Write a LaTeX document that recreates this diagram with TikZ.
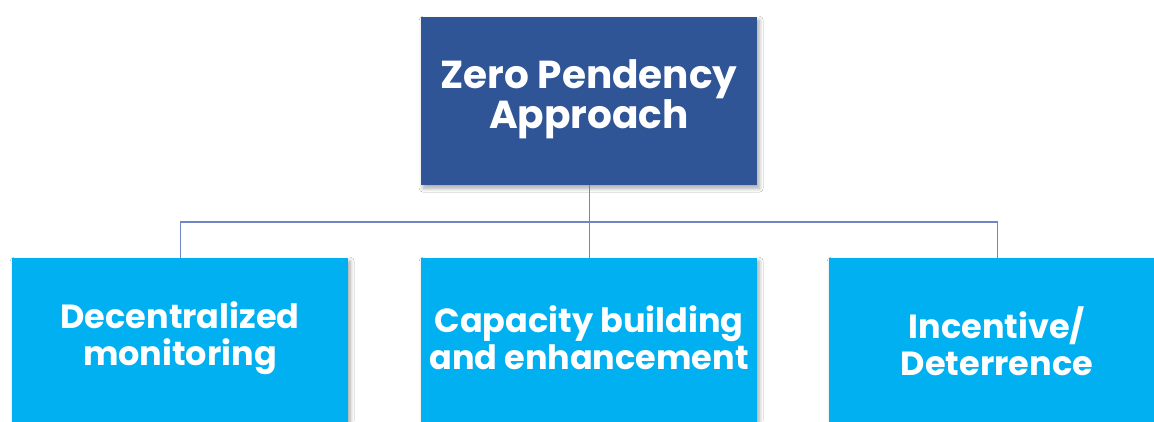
\documentclass[tikz,border=0pt]{standalone}
\usepackage{fontspec}
\setmainfont{Poppins}
\usetikzlibrary{shadows.blur}
\definecolor{headblue}{HTML}{2F5597}
\definecolor{leafblue}{HTML}{00B0F0}
\definecolor{linkblue}{HTML}{7185C6}
\tikzset{
  box/.style={rectangle, minimum width=336pt, minimum height=168pt, inner sep=0pt,
    anchor=north west, blur shadow={shadow xshift=2pt, shadow yshift=-3pt,
    shadow blur steps=6, shadow blur radius=4pt, shadow opacity=35}},
  headbox/.style={box, fill=headblue},
  leafbox/.style={box, fill=leafblue},
  label/.style={text=white, align=center, inner sep=0pt},
  headlabel/.style={label, font=\fontsize{39}{38}\selectfont\bfseries},
  leaflabel/.style={label, font=\fontsize{33.5}{37}\selectfont\bfseries},
  link/.style={draw=linkblue, line width=1.3pt}
}
\begin{document}
\begin{tikzpicture}[x=1pt, y=-1pt]
  \useasboundingbox (0,0) rectangle (1154,421);
  \clip (0,0) rectangle (1154,421);
  \fill[white] (0,0) rectangle (1154,421);
  % boxes
  \coordinate (bus) at (589,222);
  \node[headbox] (head) at (421,17) {};
  \node[leafbox] (left) at (12,258) {};
  \node[leafbox] (mid) at (421,258) {};
  \node[leafbox] (right) at (829,258) {};
  % connectors
  \draw[link] (head.south) -- (mid.north);
  \draw[link] (left.north) |- (bus) -| (right.north);
  % labels
  \node[headlabel] (thead) at (589,99) {Zero Pendency\\Approach};
  \node[leaflabel] (tleft) at (180,338) {Decentralized\\monitoring};
  \node[leaflabel] (tmid) at (589,338) {Capacity building\\and enhancement};
  \node[leaflabel] (tright) at (997,341) {Incentive/\\Deterrence};
\end{tikzpicture}
\end{document}
